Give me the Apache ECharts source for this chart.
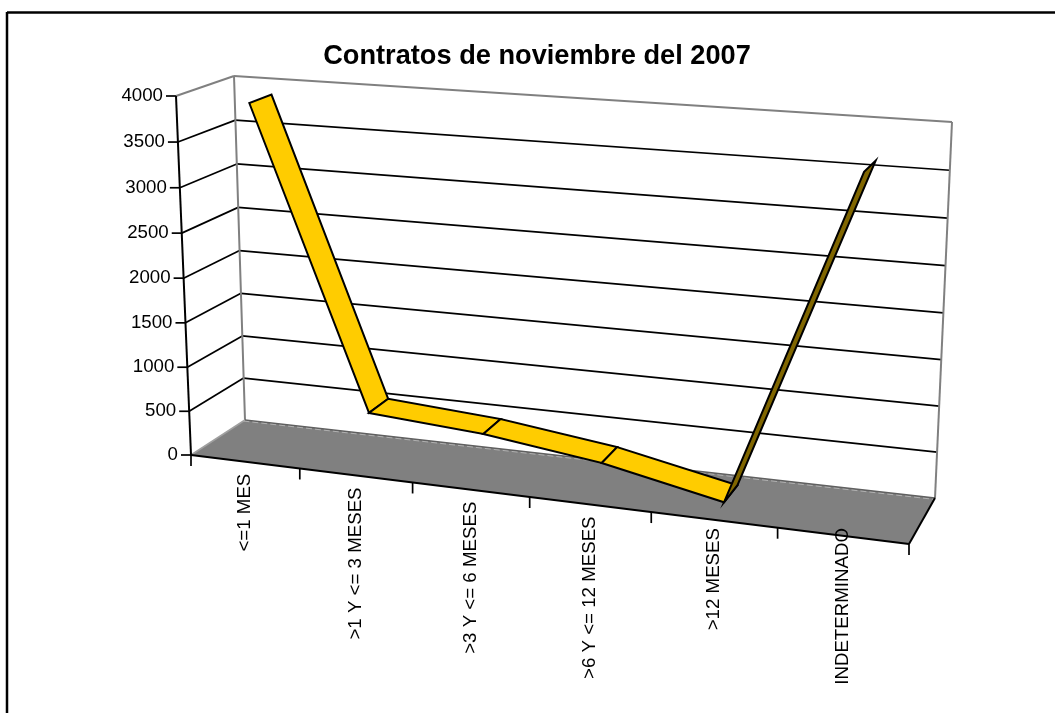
<!DOCTYPE html>
<html><head><meta charset="utf-8">
<style>html,body{margin:0;padding:0;background:#fff}#c{width:1055px;height:713px}</style>
<script src="https://cdn.jsdelivr.net/npm/echarts@6/dist/echarts.min.js"></script>
</head><body><div id="c"></div>
<script>
const titleText = 'Contratos de noviembre del 2007';
const categories = ['<=1 MES','>1 Y <= 3 MESES','>3 Y <= 6 MESES','>6 Y <= 12 MESES','>12 MESES','INDETERMINADO'];
const values = [3900, 580, 490, 320, 50, 3640];
const yTicks = [0,500,1000,1500,2000,2500,3000,3500,4000];

// 3D box corners on the page (F/B front/back, L/R left/right, B/T bottom/top)
const box = {
  FLB:[191,455], FLT:[176,96], BLB:[245,420], BLT:[234,76],
  FRB:[909,544], FRT:[926,149], BRB:[935,498], BRT:[952,122]
};
const RIB_W0 = 0.3, RIB_W1 = 0.7;
const warpU = u => u/(u+1.12*(1-u));
const warpV = v => v/(v+1.03*(1-v));
const mix = (a,b,t) => [a[0]+(b[0]-a[0])*t, a[1]+(b[1]-a[1])*t];
function proj(u,v,w){
  const f = warpU(u), g = warpV(v);
  const fb = mix(box.FLB,box.FRB,f), ft = mix(box.FLT,box.FRT,f);
  const bb = mix(box.BLB,box.BRB,f), bt = mix(box.BLT,box.BRT,f);
  return mix(mix(fb,ft,g), mix(bb,bt,g), w);
}
function norm(params,api,i,val){
  const p = api.coord([i,val]), c = params.coordSys;
  return [(p[0]-c.x)/c.width, (c.y+c.height-p[1])/c.height];
}
const line = (a,b,stroke,lw,extra) => ({type:'line',shape:{x1:a[0],y1:a[1],x2:b[0],y2:b[1]},
  style:Object.assign({stroke,lineWidth:lw,fill:null},extra||{}),silent:true});
const FONT = '18.7px "Liberation Sans", Arial, sans-serif';

function renderFrame(params,api){
  const c = [];
  const n = categories.length;
  // floor
  c.push({type:'polygon',shape:{points:[proj(0,0,0),proj(1,0,0),proj(1,0,1),proj(0,0,1)]},
    style:{fill:'#808080',stroke:null},silent:true});
  // gridlines on side and back walls
  yTicks.forEach(t=>{
    const [,v] = norm(params,api,0,t);
    if(t>0 && t<4000){
      c.push(line(proj(0,v,0),proj(0,v,1),'#000',1.7));
      c.push(line(proj(0,v,1),proj(1,v,1),'#000',1.7));
    }
    const a = proj(0,v,0);
    c.push(line([a[0]-10,a[1]],a,'#000',1.7));
    c.push({type:'text',x:a[0]-13,y:a[1],silent:true,
      style:{text:String(t),font:FONT,fill:'#000',align:'right',verticalAlign:'middle'}});
  });
  // wall edges
  c.push(line(proj(0,0,1),proj(0,1,1),'#808080',2));
  c.push(line(proj(1,0,1),proj(1,1,1),'#808080',2));
  c.push(line(proj(0,1,0),proj(0,1,1),'#808080',2));
  c.push(line(proj(0,1,1),proj(1,1,1),'#808080',2));
  c.push(line(proj(0,0,0),proj(0,0,1),'#a0a0a0',1.6));
  c.push(line(proj(0,0,1),proj(1,0,1),'#606060',1.5));
  c.push(line(proj(0,0,0.97),proj(1,0,0.97),'#b0b0b0',1,{lineDash:[6,3]}));
  // front edges and axis
  c.push(line(proj(0,0,0),proj(0,1,0),'#000',2));
  c.push(line(proj(0,0,0),proj(1,0,0),'#000',2));
  c.push(line(proj(1,0,0),proj(1,0,1),'#000',2));
  for(let k=0;k<=n;k++){
    const a = proj(k/n,0,0);
    c.push(line(a,[a[0],a[1]+11],'#000',1.7));
  }
  categories.forEach((name,i)=>{
    const a = proj((i+0.5)/n,0,0);
    c.push({type:'text',x:a[0],y:Math.min(a[1]+12,528),rotation:Math.PI/2,silent:true,
      style:{text:name,font:FONT,fill:'#000',align:'right',verticalAlign:'middle'}});
  });
  return {type:'group',children:c};
}
function renderRibbon(params,api){
  const i = api.value(0);
  if(i>=values.length-1) return null;
  const a = norm(params,api,i,api.value(1)), b = norm(params,api,i+1,values[i+1]);
  const rising = values[i+1] > api.value(1);
  return {type:'polygon',silent:true,
    shape:{points:[proj(a[0],a[1],RIB_W0),proj(b[0],b[1],RIB_W0),proj(b[0],b[1],RIB_W1),proj(a[0],a[1],RIB_W1)]},
    style:{fill:rising?'#806600':'#FFCC00',stroke:'#000',lineWidth:2,lineJoin:'miter'}};
}
const chart = echarts.init(document.getElementById('c'),null,{renderer:'canvas'});
chart.setOption({
  animation:false,
  backgroundColor:'#fff',
  title:{text:titleText,left:532,top:38,textAlign:'center',
    textStyle:{fontFamily:'"Liberation Sans", Arial, sans-serif',fontWeight:'bold',fontSize:27.2,color:'#000'}},
  grid:{left:191,top:96,width:718,height:359},
  xAxis:{type:'category',data:categories,show:false},
  yAxis:{type:'value',min:0,max:4000,interval:500,show:false},
  graphic:[
    {type:'line',shape:{x1:7,y1:12.5,x2:1055,y2:12.5},style:{stroke:'#000',lineWidth:2.5}},
    {type:'line',shape:{x1:7,y1:12,x2:7,y2:713},style:{stroke:'#000',lineWidth:2.5}}
  ],
  series:[
    {type:'custom',name:'frame',data:[[0,0]],clip:false,z:1,renderItem:renderFrame,encode:{x:0,y:1}},
    {type:'custom',name:'Contratos',data:values.map((v,i)=>[i,v]),clip:false,z:2,renderItem:renderRibbon,encode:{x:0,y:1}}
  ]
});
</script></body></html>
